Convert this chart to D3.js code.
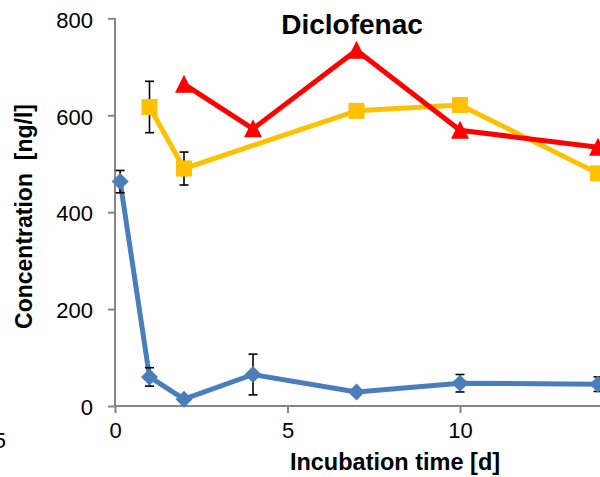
<!DOCTYPE html>
<html>
<head>
<meta charset="utf-8">
<script src="https://cdn.jsdelivr.net/npm/d3@7"></script>
<style>
  html, body { margin: 0; padding: 0; background: #fff; }
  svg { display: block; font-family: "Liberation Sans", Arial, sans-serif; }
</style>
</head>
<body>
<svg id="chart" width="600" height="477"></svg>
<script>
// Diclofenac concentration over incubation time, three treatments
const blueDays   = [0.15, 1, 2, 4, 7, 10, 14];
const blueValues = [463, 60, 14, 65, 29, 47, 45];
const blueErrors = [23, 19, 0, 42, 0, 18, 15];

const yellowDays   = [1, 2, 7, 10, 14];
const yellowValues = [617, 490, 609, 621, 480];
const yellowErrors = [53, 34, 0, 0, 0];

const redDays   = [2, 4, 7, 10, 14];
const redValues = [664, 572, 734, 569, 534];

const xTicks = [0, 5, 10];
const yTicks = [0, 200, 400, 600, 800];

const svg = d3.select("#chart");

const x = d3.scaleLinear().domain([0, 15]).range([115, 632.5]);
const y = d3.scaleLinear().domain([0, 800]).range([406, 18.3]);

const axisColor = "#868686";

// y axis
const yAxis = svg.append("g")
  .attr("transform", `translate(${x(0)},0)`)
  .call(d3.axisLeft(y).tickValues(yTicks).tickSize(7).tickPadding(15));
// x axis
const xAxis = svg.append("g")
  .attr("transform", `translate(0,${y(0)})`)
  .call(d3.axisBottom(x).tickValues(xTicks).tickSize(7).tickPadding(9));

[yAxis, xAxis].forEach(g => {
  g.select(".domain").attr("stroke", axisColor).attr("stroke-width", 2);
  g.selectAll(".tick line").attr("stroke", axisColor).attr("stroke-width", 2);
  g.selectAll(".tick text")
    .attr("fill", "#000")
    .style("font-size", "22px")
    .style("font-family", "'Liberation Sans', Arial, sans-serif");
});
yAxis.select(".domain").attr("d", `M0,${y(800)}V${y(0)}`);
xAxis.select(".domain").attr("d", `M${x(0)},0H${x(15)}`);
yAxis.selectAll(".tick text").attr("dy", "0.4em");

// stray tick label of the neighbouring panel at the left edge
svg.append("text")
  .attr("x", 6).attr("y", 448)
  .attr("text-anchor", "end")
  .style("font-size", "22px")
  .text("15");

function series(days, values, color) {
  const pts = days.map((d, i) => [d, values[i]]);
  svg.append("path")
    .datum(pts)
    .attr("fill", "none")
    .attr("stroke", color)
    .attr("stroke-width", 5)
    .attr("stroke-linejoin", "round")
    .attr("d", d3.line().x(p => x(p[0])).y(p => y(p[1])));
  return pts;
}

function errorBars(days, values, errors) {
  const g = svg.append("g").attr("stroke", "#000").attr("stroke-width", 1.6);
  days.forEach((d, i) => {
    if (!errors[i]) return;
    const cx = x(d), top = y(values[i] + errors[i]), bot = y(values[i] - errors[i]);
    g.append("line").attr("x1", cx).attr("x2", cx).attr("y1", top).attr("y2", bot);
    g.append("line").attr("x1", cx - 4.5).attr("x2", cx + 4.5).attr("y1", top).attr("y2", top);
    g.append("line").attr("x1", cx - 4.5).attr("x2", cx + 4.5).attr("y1", bot).attr("y2", bot);
  });
}

const bluePts = series(blueDays, blueValues, "#4A7EBB");
const yellowPts = series(yellowDays, yellowValues, "#FFC000");
const redPts = series(redDays, redValues, "#FF0000");

errorBars(blueDays, blueValues, blueErrors);
errorBars(yellowDays, yellowValues, yellowErrors);

// markers
svg.append("g").selectAll("path").data(bluePts).join("path")
  .attr("transform", p => `translate(${x(p[0])},${y(p[1])})`)
  .attr("d", "M0,-8.5L8.5,0L0,8.5L-8.5,0Z")
  .attr("fill", "#4A7EBB");

svg.append("g").selectAll("rect").data(yellowPts).join("rect")
  .attr("x", p => x(p[0]) - 8).attr("y", p => y(p[1]) - 8)
  .attr("width", 16).attr("height", 16)
  .attr("fill", "#FFC000");

svg.append("g").selectAll("path").data(redPts).join("path")
  .attr("transform", p => `translate(${x(p[0])},${y(p[1])})`)
  .attr("d", "M0,-9.5L9,8.5L-9,8.5Z")
  .attr("fill", "#FF0000");

// titles
svg.append("text")
  .attr("x", 352).attr("y", 34)
  .attr("text-anchor", "middle")
  .style("font-size", "28px").style("font-weight", "bold")
  .text("Diclofenac");

svg.append("text")
  .attr("x", 395).attr("y", 470)
  .attr("text-anchor", "middle")
  .style("font-size", "23.5px").style("font-weight", "bold")
  .text("Incubation time [d]");

svg.append("text")
  .attr("transform", "translate(31.5,216.5) rotate(-90)")
  .attr("text-anchor", "middle")
  .style("font-size", "23px").style("font-weight", "bold")
  .style("white-space", "pre")
  .text("Concentration\u00a0 [ng/l]");
</script>
</body>
</html>
